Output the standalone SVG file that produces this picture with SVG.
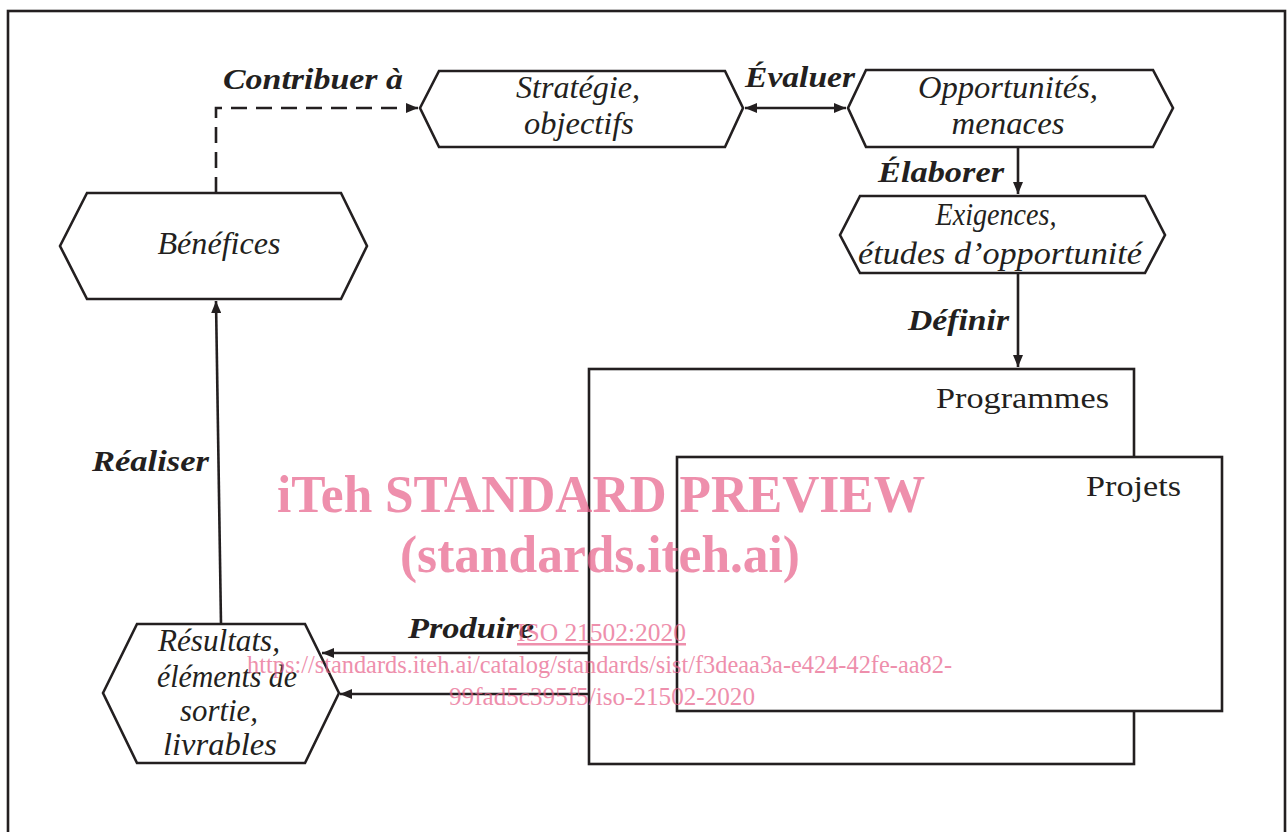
<svg xmlns="http://www.w3.org/2000/svg" width="1288" height="832" viewBox="0 0 1288 832">
<style>
.sh{fill:#fff;stroke:#231f20;stroke-width:2.6;stroke-linejoin:miter}
.ln{fill:none;stroke:#231f20;stroke-width:2.6}
.nt{font-family:"Liberation Serif",serif;font-style:italic;font-size:31px;fill:#231f20;text-anchor:middle}
.lb{font-family:"Liberation Serif",serif;font-style:italic;font-weight:bold;font-size:29px;fill:#231f20}
.rg{font-family:"Liberation Serif",serif;font-size:30px;fill:#231f20}
.wm{font-family:"Liberation Serif",serif;fill:#e8608a;opacity:0.7}
</style>
<defs>
<marker id="ah" viewBox="0 0 12 10" refX="12" refY="5" markerWidth="12" markerHeight="10" markerUnits="userSpaceOnUse" orient="auto-start-reverse">
<path d="M0,0 L12,5 L0,10 Z" fill="#231f20"/>
</marker>
</defs>
<rect x="0" y="0" width="1288" height="832" fill="#fff"/>
<rect x="8" y="11" width="1277" height="850" fill="none" stroke="#231f20" stroke-width="2.6"/>

<g id="connectors">
<path class="ln" d="M216,193 V108 H418" stroke-dasharray="16,9" marker-end="url(#ah)"/>
<line class="ln" x1="745" y1="108" x2="846" y2="108" marker-start="url(#ah)" marker-end="url(#ah)"/>
<line class="ln" x1="1018" y1="147" x2="1018" y2="194" marker-end="url(#ah)"/>
<line class="ln" x1="1018" y1="273" x2="1018" y2="367" marker-end="url(#ah)"/>
<line class="ln" x1="221" y1="624" x2="216" y2="301" marker-end="url(#ah)"/>
<line class="ln" x1="677" y1="653" x2="322" y2="653" marker-end="url(#ah)"/>
<line class="ln" x1="588" y1="694" x2="340" y2="694" marker-end="url(#ah)"/>
</g>

<g id="benefices">
<polygon class="sh" points="60,246 87,193 341,193 367,246 341,299 87,299"/>
<text class="nt" x="219" y="254" textLength="123" lengthAdjust="spacingAndGlyphs">Bénéfices</text>
</g>

<g id="strategie">
<polygon class="sh" points="420,108 439,71 725,71 743,108 725,147 439,147"/>
<text class="nt" x="578" y="98" textLength="124" lengthAdjust="spacingAndGlyphs">Stratégie,</text>
<text class="nt" x="579" y="134" textLength="110" lengthAdjust="spacingAndGlyphs">objectifs</text>
</g>

<g id="opportunites">
<polygon class="sh" points="848,108 866,70 1153,70 1173,108 1153,147 866,147"/>
<text class="nt" x="1008" y="98" textLength="180" lengthAdjust="spacingAndGlyphs">Opportunités,</text>
<text class="nt" x="1008" y="134" textLength="113" lengthAdjust="spacingAndGlyphs">menaces</text>
</g>

<g id="exigences">
<polygon class="sh" points="840,235 860,196 1145,196 1165,235 1145,273 860,273"/>
<text class="nt" x="996" y="225" textLength="121" lengthAdjust="spacingAndGlyphs">Exigences,</text>
<text class="nt" x="1000" y="264" textLength="284" lengthAdjust="spacingAndGlyphs">études d’opportunité</text>
</g>

<g id="programmes">
<rect class="sh" x="589" y="369" width="545" height="395"/>
<text class="rg" x="936" y="408" textLength="173" lengthAdjust="spacingAndGlyphs">Programmes</text>
</g>

<g id="projets">
<rect class="sh" x="677" y="457" width="545" height="254"/>
<text class="rg" x="1086" y="496" textLength="95" lengthAdjust="spacingAndGlyphs">Projets</text>
</g>

<g id="resultats">
<polygon class="sh" points="103,693 137,624 305,624 339,693 305,763 137,763"/>
<text class="nt" x="219" y="651" textLength="122" lengthAdjust="spacingAndGlyphs">Résultats,</text>
<text class="nt" x="227" y="687" textLength="140" lengthAdjust="spacingAndGlyphs">éléments de</text>
<text class="nt" x="219" y="721" textLength="78" lengthAdjust="spacingAndGlyphs">sortie,</text>
<text class="nt" x="220" y="755" textLength="114" lengthAdjust="spacingAndGlyphs">livrables</text>
</g>

<g id="labels">
<text class="lb" x="223" y="89" textLength="180" lengthAdjust="spacingAndGlyphs">Contribuer à</text>
<text class="lb" x="745" y="87" textLength="110" lengthAdjust="spacingAndGlyphs">Évaluer</text>
<text class="lb" x="878" y="182" textLength="126" lengthAdjust="spacingAndGlyphs">Élaborer</text>
<text class="lb" x="908" y="330" textLength="101" lengthAdjust="spacingAndGlyphs">Définir</text>
<text class="lb" x="92" y="471" textLength="117" lengthAdjust="spacingAndGlyphs">Réaliser</text>
<text class="lb" x="408" y="638" textLength="126" lengthAdjust="spacingAndGlyphs">Produire</text>
</g>

<g id="watermark">
<text class="wm" x="277" y="512" font-size="52" font-weight="bold" textLength="648" lengthAdjust="spacingAndGlyphs">iTeh STANDARD PREVIEW</text>
<text class="wm" x="400" y="572" font-size="52" font-weight="bold" textLength="400" lengthAdjust="spacingAndGlyphs">(standards.iteh.ai)</text>
<text class="wm" x="517" y="641" font-size="25" text-decoration="underline" textLength="169" lengthAdjust="spacingAndGlyphs">ISO 21502:2020</text>
<text class="wm" x="247" y="673" font-size="25" textLength="705" lengthAdjust="spacingAndGlyphs">https://standards.iteh.ai/catalog/standards/sist/f3deaa3a-e424-42fe-aa82-</text>
<text class="wm" x="449" y="705" font-size="25" textLength="306" lengthAdjust="spacingAndGlyphs">99fad5c395f5/iso-21502-2020</text>
</g>
</svg>
